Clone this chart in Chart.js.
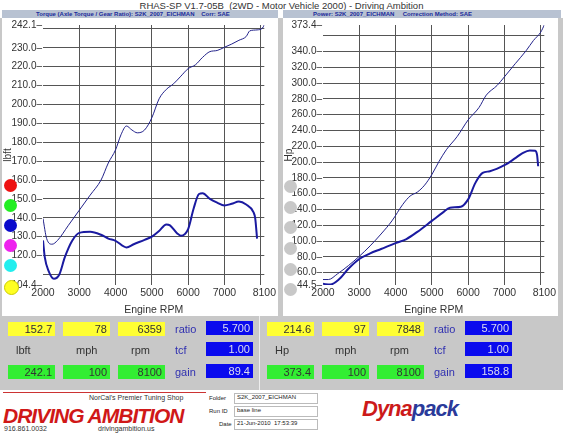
<!DOCTYPE html>
<html><head><meta charset="utf-8">
<script src="https://cdn.jsdelivr.net/npm/chart.js@4/dist/chart.umd.min.js"></script>
<style>
body{margin:0;width:563px;height:435px;background:#fff;font-family:"Liberation Sans",Arial,sans-serif;position:relative;overflow:hidden}
.a{position:absolute}
.hdr{top:10px;height:8px;background:#b8c2d2;color:#1a2a9a;font-size:6px;font-weight:bold;line-height:8px}
.box{position:absolute;height:14px;font-size:11px;line-height:14px;text-align:right;padding-right:3px;box-sizing:border-box}
.y{background:#ffff33;color:#333}.g{background:#33ee33;color:#333}.b{background:#0a0aee;color:#dde}
.lab{position:absolute;font-size:11px;color:#333}
.bl{position:absolute;font-size:11px;color:#3030b0}
.dot{position:absolute;width:13px;height:13px;border-radius:50%}
</style></head><body>
<div class="a" style="left:0;top:0;width:563px;text-align:center;font-size:9.5px;color:#333;line-height:11px">RHAS-SP V1.7-05B &nbsp;(2WD - Motor Vehicle 2000) - Driving Ambition</div>
<div class="a hdr" style="left:2px;width:276px;padding-left:34px;box-sizing:border-box">Torque (Axle Torque / Gear Ratio): S2K_2007_EICHMAN &nbsp;&nbsp;&nbsp;Corr: SAE</div>
<div class="a hdr" style="left:283px;width:278px;padding-left:30px;box-sizing:border-box">Power: S2K_2007_EICHMAN &nbsp;&nbsp;&nbsp;&nbsp;Correction Method: SAE</div>
<div class="a" style="left:278px;top:18px;width:5px;height:300px;background:#c8c8c8"></div>
<div class="a" style="left:0;top:18px;width:2px;height:300px;background:#c8c8c8"></div>
<div class="a" style="left:558px;top:18px;width:5px;height:300px;background:#c8c8c8"></div>
<div class="a" style="left:2px;top:18px;width:276px;height:298px"><canvas id="c1" width="276" height="298"></canvas></div>
<div class="a" style="left:283px;top:18px;width:275px;height:298px"><canvas id="c2" width="275" height="298"></canvas></div>
<div class="dot" style="left:4px;top:179px;background:#ee1111"></div>
<div class="dot" style="left:4px;top:199px;background:#22ee22"></div>
<div class="dot" style="left:4px;top:219px;background:#0a0acc"></div>
<div class="dot" style="left:4px;top:239px;background:#ee22ee"></div>
<div class="dot" style="left:4px;top:259px;background:#22eeee"></div>
<div class="dot" style="left:4px;top:280px;background:#ffff22;border:1px solid #cc0"></div>
<div class="dot" style="left:284px;top:180px;background:#c8c8c8"></div>
<div class="dot" style="left:284px;top:201px;background:#c8c8c8"></div>
<div class="dot" style="left:284px;top:221px;background:#c8c8c8"></div>
<div class="dot" style="left:284px;top:242px;background:#c8c8c8"></div>
<div class="dot" style="left:284px;top:263px;background:#c8c8c8"></div>
<div class="dot" style="left:284px;top:283px;background:#c8c8c8"></div>
<div class="a" style="left:0;top:316px;width:563px;height:74px;background:#c8c8c8"></div>
<div class="a" style="left:259px;top:316px;width:1px;height:74px;background:#eee"></div>
<div id="panels"></div>
<div class="a" style="left:3px;top:392px;width:203px;height:43px;background:#fff;border-top:1px solid #c33;overflow:hidden">
 <div class="a" style="left:0;top:11px;font-size:21px;font-weight:bold;font-style:italic;color:#d01818;letter-spacing:-1px">DRIVING AMBITION</div>
 <div class="a" style="left:86px;top:1px;font-size:7px;color:#333">NorCal's Premier Tuning Shop</div>
 <div class="a" style="left:1px;top:32px;font-size:7px;color:#333">916.861.0032</div>
 <div class="a" style="left:95px;top:32px;font-size:7px;color:#333">drivingambition.us</div>
</div>
<div class="a" style="left:209px;top:393px;font-size:6px;color:#222;line-height:7px;white-space:nowrap">
 <div class="a" style="left:0;top:2px">Folder</div><div class="a" style="left:25px;top:0;width:80px;height:9px;border:1px solid #bbb;padding-left:2px">S2K_2007_EICHMAN</div>
 <div class="a" style="left:0;top:15px">Run ID</div><div class="a" style="left:25px;top:13px;width:80px;height:9px;border:1px solid #bbb;padding-left:2px">base line</div>
 <div class="a" style="left:10px;top:28px">Date</div><div class="a" style="left:25px;top:26px;width:80px;height:9px;border:1px solid #bbb;padding-left:2px">21-Jun-2010 &nbsp;17:53:39</div>
</div>
<div class="a" style="left:362px;top:396px;font-size:22px;font-weight:bold;font-style:italic;color:#cc1a1a;letter-spacing:-1px">Dyna<span style="color:#2a3a9a">pack</span></div>
<script>
const rpmTorqueA=[2000,2100,2250,2400,2700,3000,3300,3600,3800,4000,4150,4300,4450,4600,4800,5000,5200,5400,5600,5800,6000,6200,6400,6600,6800,7000,7200,7400,7600,7700,7900,8050,8100];
const torqueA=[139.6,129,126,128,136,144,152,160,169,176,184,188.6,186.5,185,186.5,193,203,208,211,215,219,221,225,228,228.6,230.3,232,234,236,239,239.5,240.5,242.1];
const rpmTorqueB=[2000,2050,2150,2300,2450,2600,2800,3000,3300,3600,3800,4000,4300,4500,4800,5000,5200,5400,5500,5700,5800,6000,6150,6300,6400,6600,6800,7000,7200,7400,7600,7800,7850,7900];
const torqueB=[128,119,112,107.7,110,119,127.7,132,132.6,131,129,127.8,124.3,126,128.3,130,133,136.5,136,131.7,130.5,134,144.8,152.6,153,150,148,146.5,147.4,148.6,147,143,139.6,129];
const rpmPowerA=[2000,2150,2400,2700,3000,3300,3600,3900,4200,4400,4600,4800,5000,5200,5400,5700,6000,6300,6500,6800,7000,7300,7600,7800,8000,8100];
const powerA=[51.4,51.4,58.6,69,80.8,94,109,125.6,146.5,157,162,170.8,184.2,201,215.6,232.4,253.3,269,284.7,297,307.8,324.5,341,353.8,364.3,373.4];
const rpmPowerB=[2000,2200,2450,2700,3000,3300,3600,4000,4300,4600,5000,5300,5500,5800,6000,6200,6400,6600,7000,7300,7500,7700,7850,7900,7930];
const powerB=[46,45,52,65,77.4,84.5,90,97.5,102.6,111.7,125.6,136,142.3,143.6,152.8,173.7,186.3,188.4,196,205,211.4,214.8,214.4,209,194.7];
const rpmTicks=[2000,3000,4000,5000,6000,7000,8000,8100];
const torqueTicks=[104.4,110,120,130,140,150,160,170,180,190,200,210,220,230,240,242.1];
const powerTicks=[44.5,60,80,100,120,140,160,180,200,220,240,260,280,300,320,340,360,373.4];
const torqueHidden=[110,240];
const powerHidden=[360];
const panelLeft=[["152.7","78","6359","5.700"],["lbft","mph","rpm","1.00"],["242.1","100","8100","89.4"]];
const panelRight=[["214.6","97","7848","5.700"],["Hp","mph","rpm","1.00"],["373.4","100","8100","158.8"]];

function pts(xs,ys){return xs.map((x,i)=>({x,y:ys[i]}));}
function mk(id,dsA,dsB,yTicks,hidden,yTitle,plotLeft,rightPad){
  const ymin=yTicks[0],ymax=yTicks[yTicks.length-1];
  new Chart(document.getElementById(id),{type:'line',
   data:{datasets:[
    {data:dsA,borderColor:'#22228a',borderWidth:1,pointRadius:0,cubicInterpolationMode:'monotone'},
    {data:dsB,borderColor:'#1a1aa0',borderWidth:2,pointRadius:0,cubicInterpolationMode:'monotone'}]},
   options:{responsive:false,animation:false,
    plugins:{legend:{display:false},tooltip:{enabled:false}},
    layout:{padding:{top:6,right:rightPad,bottom:0,left:0}},
    scales:{
     x:{type:'linear',min:2000,max:8100,
      afterBuildTicks:s=>{s.ticks=rpmTicks.map(v=>({value:v}));},
      ticks:{autoSkip:false,maxRotation:0,color:'#333',font:{size:10.5,family:'Liberation Sans'},padding:2,callback:v=>v==8000?'':String(v)},
      grid:{color:c=>(c.tick.value==2000||c.tick.value==8100)?'rgba(0,0,0,0)':'#555',drawTicks:false,lineWidth:1},
      border:{display:false},
      title:{display:true,text:'Engine RPM',color:'#333',font:{size:10.5,family:'Liberation Sans'},padding:0},
      afterFit:s=>{s.height=31;}},
     y:{min:ymin,max:ymax,
      afterBuildTicks:s=>{s.ticks=yTicks.map(v=>({value:v}));},
      ticks:{autoSkip:false,color:'#333',font:{size:10,family:'Liberation Sans'},padding:1,
       callback:v=>hidden.includes(v)?'':v.toFixed(1)+'\u2013'},
      grid:{color:c=>(c.tick.value==ymin||c.tick.value==ymax)?'rgba(0,0,0,0)':'#555',drawTicks:false},
      border:{display:false},
      title:{display:true,text:yTitle,color:'#333',font:{size:10,family:'Liberation Sans'},padding:0},
      afterFit:s=>{s.width=plotLeft;}}
    }}});
}
mk('c1',pts(rpmTorqueA,torqueA),pts(rpmTorqueB,torqueB),torqueTicks,torqueHidden,'lbft',41,9);
mk('c2',pts(rpmPowerA,powerA),pts(rpmPowerB,powerB),powerTicks,powerHidden,'Hp',40,10);

function panel(data,ox){
  const P=document.getElementById('panels');
  const cls=['y','','g'],tops=[322,343,365],names=['ratio','tcf','gain'];
  data.forEach((row,r)=>{
    for(let i=0;i<3;i++){
      const x=ox+[8,63,118][i];
      if(r==1){const d=document.createElement('div');d.className='lab';d.style.left=(x+8)+'px';d.style.top=(tops[r]+1)+'px';d.textContent=row[i];if(i>0)d.style.left=(x+13)+'px';P.appendChild(d);}
      else{const d=document.createElement('div');d.className='box '+cls[r];d.style.left=x+'px';d.style.width='47px';d.style.top=tops[r]+'px';d.textContent=row[i];P.appendChild(d);}
    }
    const l=document.createElement('div');l.className='bl';l.style.left=(ox+175)+'px';l.style.top=(tops[r]+1)+'px';l.textContent=names[r];P.appendChild(l);
    const b=document.createElement('div');b.className='box b';b.style.left=(ox+206)+'px';b.style.width='47px';b.style.top=(tops[r]-1)+'px';b.textContent=row[3];P.appendChild(b);
  });
}
panel(panelLeft,0);panel(panelRight,259);
</script>
</body></html>
